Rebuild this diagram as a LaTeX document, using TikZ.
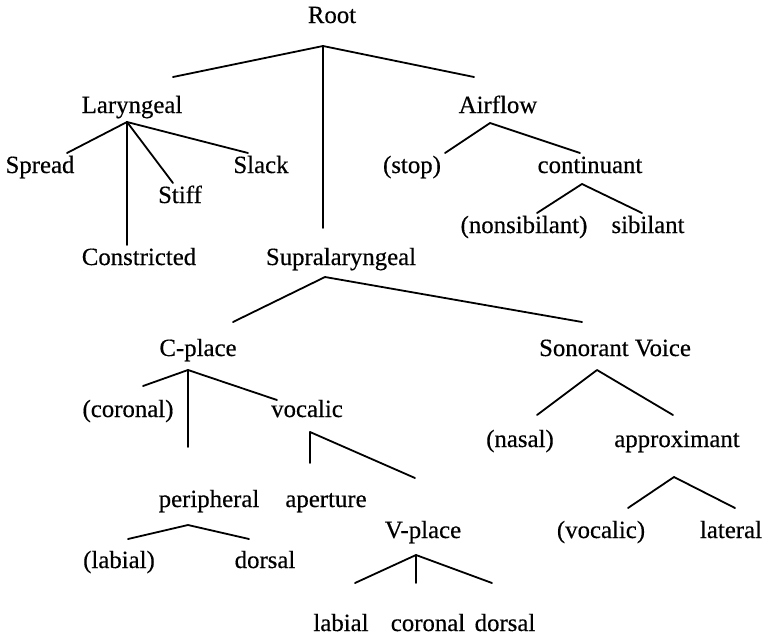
\documentclass[tikz,border=0pt]{standalone}
\usepackage{fontspec}
\setmainfont[FakeBold=0.4]{Liberation Serif}
\begin{document}
\begin{tikzpicture}[x=1pt,y=-1pt,
  lbl/.style={anchor=base,inner sep=0pt,font=\fontsize{24.8}{28}\selectfont},
  br/.style={line width=1.8pt,line cap=round,line join=round}]
\useasboundingbox[fill=white] (0,0) rectangle (771,635);
% labels
\node[lbl] (root) at (332,23) {Root};
\node[lbl] (lar) at (132,113) {Laryngeal};
\node[lbl] (air) at (498,113) {Airflow};
\node[lbl] (spread) at (40,173) {Spread};
\node[lbl] (stiff) at (180,203) {Stiff};
\node[lbl] (slack) at (261,173) {Slack};
\node[lbl] (stop) at (412,173) {(stop)};
\node[lbl] (cont) at (590,173) {continuant};
\node[lbl] (constr) at (139,265) {Constricted};
\node[lbl] (supra) at (341,265) {Supralaryngeal};
\node[lbl] (nonsib) at (524,233) {(nonsibilant)};
\node[lbl] (sib) at (648,233) {sibilant};
\node[lbl] (cplace) at (198,356) {C-place};
\node[lbl] (sonv) at (615,356) {Sonorant Voice};
\node[lbl] (cor) at (128,417) {(coronal)};
\node[lbl] (voc) at (307,417) {vocalic};
\node[lbl] (nas) at (520,447) {(nasal)};
\node[lbl] (appr) at (677,447) {approximant};
\node[lbl] (peri) at (209,507) {peripheral};
\node[lbl] (aper) at (326,507) {aperture};
\node[lbl] (vplace) at (423,538) {V-place};
\node[lbl] (voc2) at (601,538) {(vocalic)};
\node[lbl] (lat) at (731,538) {lateral};
\node[lbl] (lab) at (119,568) {(labial)};
\node[lbl] (dor) at (265,568) {dorsal};
\node[lbl] (vlab) at (341,631) {labial};
\node[lbl] (vcor) at (428,631) {coronal};
\node[lbl] (vdor) at (505,631) {dorsal};
% apex and end coordinates
\coordinate (rootA) at (323,46);
\coordinate (rootL) at (173,77);
\coordinate (rootM) at (323,228);
\coordinate (rootR) at (474,77);
\coordinate (larA) at (127,122);
\coordinate (larSp) at (67,153);
\coordinate (larCo) at (127,245);
\coordinate (larSt) at (173,183);
\coordinate (larSl) at (248,153);
\coordinate (airA) at (490,123);
\coordinate (airL) at (445,153);
\coordinate (airR) at (580,153);
\coordinate (contA) at (582,184);
\coordinate (contL) at (537,213);
\coordinate (contR) at (642,213);
\coordinate (supA) at (325,277);
\coordinate (supL) at (233,322);
\coordinate (supR) at (582,322);
\coordinate (cpA) at (188,370);
\coordinate (cpL) at (143,386);
\coordinate (cpM) at (188,447);
\coordinate (cpR) at (277,400);
\coordinate (vocA) at (310,432);
\coordinate (vocL) at (310,463);
\coordinate (vocR) at (415,478);
\coordinate (sonA) at (597,370);
\coordinate (sonL) at (537,415);
\coordinate (sonR) at (673,415);
\coordinate (appA) at (674,477);
\coordinate (appL) at (628,508);
\coordinate (appR) at (735,508);
\coordinate (perA) at (188,525);
\coordinate (perL) at (128,539);
\coordinate (perR) at (249,539);
\coordinate (vpA) at (416,555);
\coordinate (vpL) at (355,583);
\coordinate (vpM) at (416,583);
\coordinate (vpR) at (492,583);
% branches
\draw[br] (rootL) -- (rootA) -- (rootR);
\draw[br] (rootA) -- (rootM);
\draw[br] (larSp) -- (larA) -- (larSl);
\draw[br] (larA) -- (larCo);
\draw[br] (larA) -- (larSt);
\draw[br] (airL) -- (airA) -- (airR);
\draw[br] (contL) -- (contA) -- (contR);
\draw[br] (supL) -- (supA) -- (supR);
\draw[br] (cpL) -- (cpA) -- (cpR);
\draw[br] (cpA) -- (cpM);
\draw[br] (vocL) -- (vocA) -- (vocR);
\draw[br] (sonL) -- (sonA) -- (sonR);
\draw[br] (appL) -- (appA) -- (appR);
\draw[br] (perL) -- (perA) -- (perR);
\draw[br] (vpL) -- (vpA) -- (vpR);
\draw[br] (vpA) -- (vpM);
\end{tikzpicture}
\end{document}
